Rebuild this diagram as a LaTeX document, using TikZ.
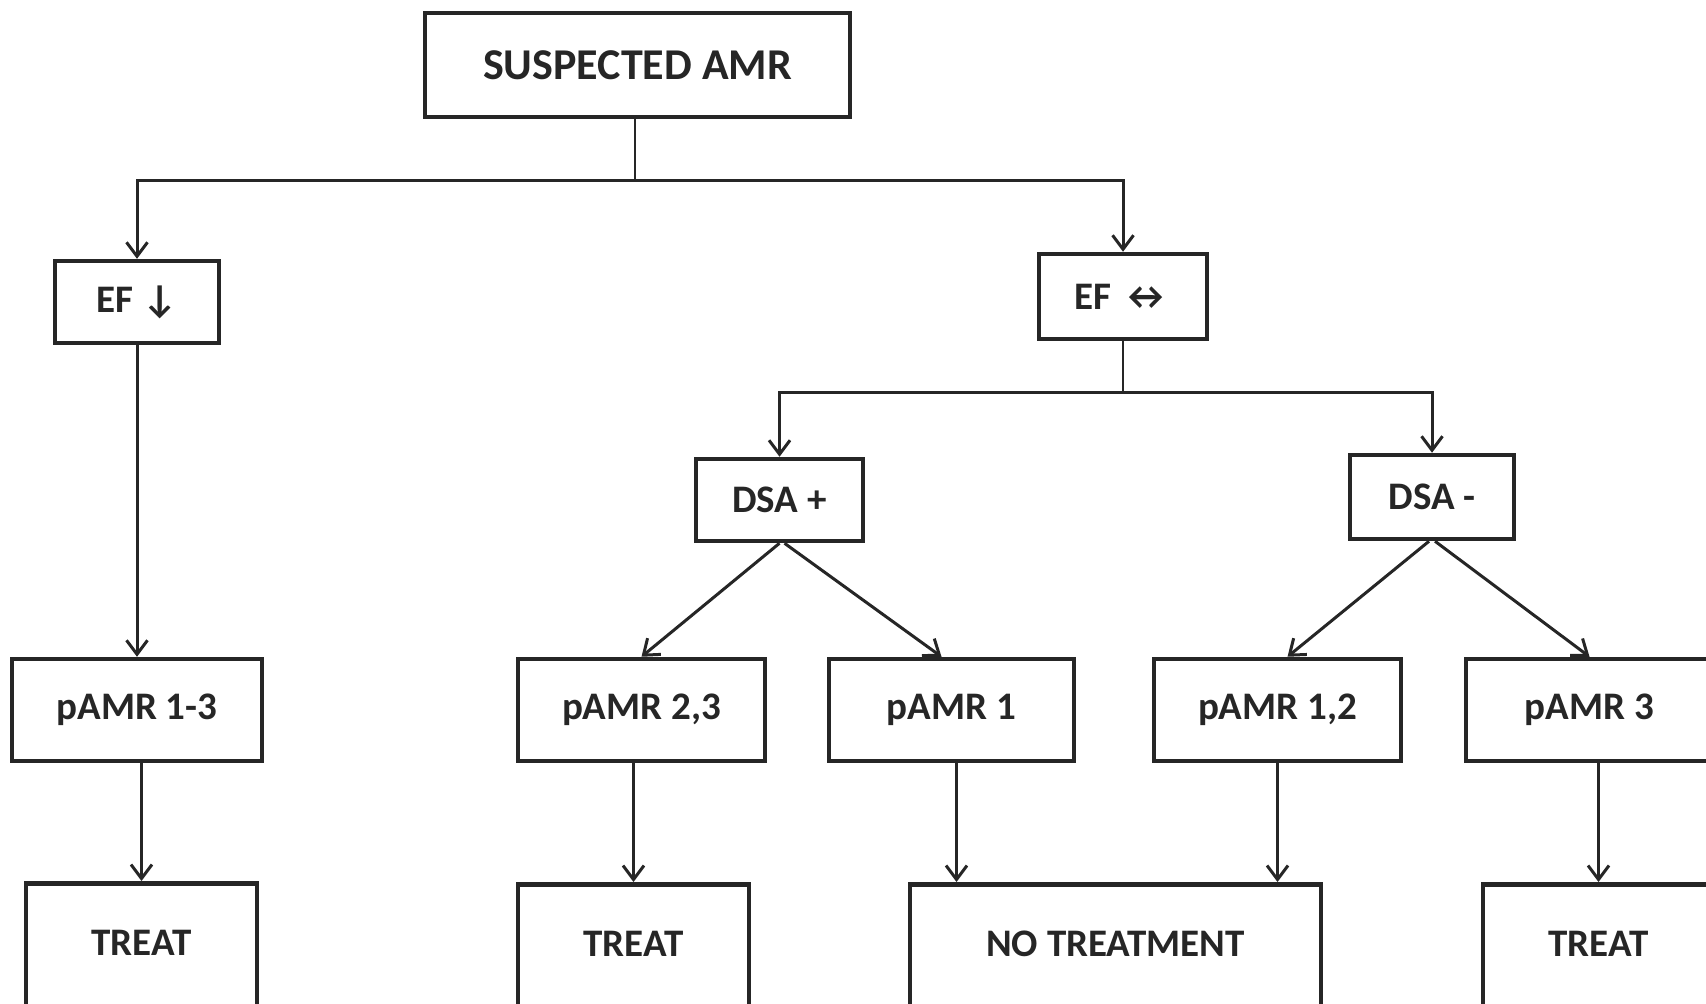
\documentclass[tikz,border=0pt]{standalone}
\usepackage{fontspec}
\setmainfont{Carlito}
\usetikzlibrary{arrows.meta}

\tikzset{
  box/.style={draw=black!85, line width=4.5pt, inner sep=0pt, align=center,
    text=black!85, font=\fontsize{39}{42}\selectfont\bfseries},
  midbox/.style={box, minimum width=247pt, minimum height=102pt},
  endbox/.style={box, anchor=north, minimum width=231pt,
    text height=72pt, text depth=60pt},
  flow/.style={draw=black!85, line width=3pt,
    -{Straight Barb[length=14pt,width=21pt]}},
  link/.style={draw=black!85, line width=2.4pt},
}

\begin{document}
\begin{tikzpicture}[x=1pt, y=-1pt]
  \useasboundingbox (0,0) rectangle (1706,1004);
  \clip (0,0) rectangle (1706,1004);

  % top
  \node[box, minimum width=425pt, minimum height=104pt,
    font=\fontsize{44}{46}\selectfont\bfseries] (amr) at (637.5,65) {SUSPECTED AMR};
  \coordinate (split1) at (635,180);

  % ejection fraction
  \node[box, minimum width=164pt, minimum height=82pt] (efdown) at (137,302) {EF ↓};
  \node[box, minimum width=168pt, minimum height=85pt] (efeq) at (1123,296.5) {EF ↔};
  \coordinate (split2) at (1123,392);

  % donor specific antibodies
  \node[box, minimum width=167pt, minimum height=82pt] (dsap) at (779.5,500) {DSA +};
  \node[box, minimum width=164pt, minimum height=84pt] (dsam) at (1432,497) {DSA -};

  % pathology grades
  \node[midbox, minimum width=250pt] (p13) at (137,710) {pAMR 1-3};
  \node[midbox] (p23) at (641.5,710) {pAMR 2,3};
  \node[midbox, minimum width=245pt] (p1) at (951.5,710) {pAMR 1};
  \node[midbox] (p12) at (1277.5,710) {pAMR 1,2};
  \node[midbox] (p3) at (1589.5,710) {pAMR 3};

  % decisions
  \node[endbox] (t1) at (141.5,881) {TREAT};
  \node[endbox] (t2) at (633.5,882) {TREAT};
  \node[endbox, minimum width=411pt] (none) at (1115.5,882) {NO TREATMENT};
  \node[endbox] (t3) at (1598.5,882) {TREAT};

  \draw[link] (amr.south -| split1) -- (split1);
  \draw[flow] (split1) -| (efdown.north);
  \draw[flow] (split1) -| (efeq.north);
  \draw[flow] (efdown) -- (p13);

  \draw[link] (efeq) -- (split2);
  \draw[flow] (split2) -| (dsap.north);
  \draw[flow] (split2) -| (dsam.north);

  \draw[flow] (dsap.south) -- (p23.north);
  \draw[flow] ([xshift=5pt]dsap.south) -- ([xshift=-10pt]p1.north);
  \draw[flow] ([xshift=-3pt]dsam.south) -- ([xshift=10pt]p12.north);
  \draw[flow] ([xshift=3pt]dsam.south) -- (p3.north);

  \draw[flow] (p13.south -| t1.north) -- (t1.north);
  \draw[flow] (p23.south -| t2.north) -- (t2.north);
  \draw[flow] ([xshift=5pt]p1.south) -- ([xshift=5pt]p1.south |- none.north);
  \draw[flow] (p12.south) -- (p12.south |- none.north);
  \draw[flow] (p3.south -| t3.north) -- (t3.north);
\end{tikzpicture}
\end{document}
